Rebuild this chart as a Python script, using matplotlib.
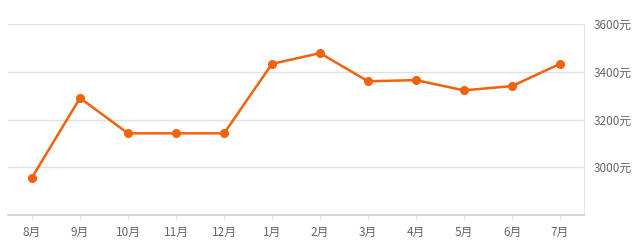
import matplotlib
matplotlib.use('Agg')
import matplotlib.pyplot as plt

plt.rcParams['font.family'] = ['Noto Sans CJK SC', 'DejaVu Sans']

months = ['8月', '9月', '10月', '11月', '12月', '1月', '2月', '3月', '4月', '5月', '6月', '7月']
prices = [2957, 3290, 3142, 3142, 3142, 3433, 3478, 3360, 3365, 3322, 3340, 3433]
yticks = [3000, 3200, 3400, 3600]
ytick_labels = ['3000元', '3200元', '3400元', '3600元']

fig = plt.figure(figsize=(6.4, 2.46), dpi=100)
ax = fig.add_axes([8 / 640, 1 - 215 / 246, 576 / 640, 191 / 246])

x = list(range(len(months)))
ax.plot(x, prices, color='#f2620c', lw=1.8, marker='o', ms=5.5, zorder=3)

ax.set_xlim(-0.5, len(months) - 0.5)
ax.set_ylim(2800, 3600)
ax.set_yticks(yticks)
ax.set_yticklabels(ytick_labels)
ax.yaxis.tick_right()
ax.set_xticks(x)
ax.set_xticklabels(months)

ax.grid(axis='y', color='#e0e0e0', lw=1)
ax.set_axisbelow(True)
for s in ['top', 'left']:
    ax.spines[s].set_visible(False)
ax.spines['right'].set_color('#e6e6e6')
ax.spines['bottom'].set_color('#d0d0d0')
ax.spines['bottom'].set_linewidth(1.2)

ax.tick_params(axis='y', length=0, pad=7, labelsize=8.5, labelcolor='#666666')
ax.tick_params(axis='x', length=3, color='#e0e0e0', pad=5, labelsize=8.5, labelcolor='#666666')

fig.savefig('out.png', dpi=100)
